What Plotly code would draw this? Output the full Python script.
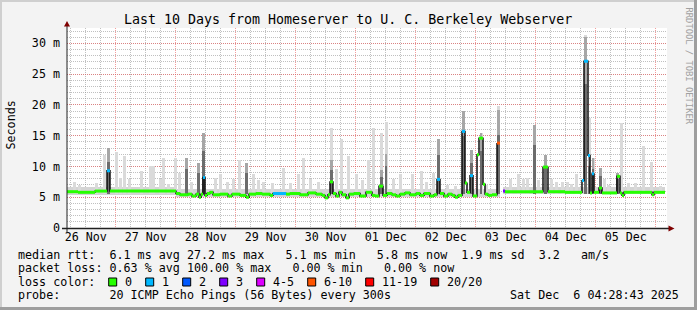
import pandas as pd
import plotly.graph_objects as go

# ---------------- data (times are hours after the graph start) ----------------
START = "2025-11-26 04:28:43"
SPAN_H = 240.0
DATA_END_H = 239.2

# median rtt (ms): step starts, values, loss class index (None = no data)
med_h = [0, 4.4, 11.2, 16, 17.2, 43.6, 45.2, 48.4, 50, 51.6, 52.8, 53.6, 54.4, 55.2, 56, 57.2,
         58.4, 61.2, 64.4, 66, 69.2, 71.6, 72.8, 75.6, 78, 81.2, 82.4, 87.6, 89.2, 93.2, 96.4,
         99.6, 102, 103.2, 104.4, 105.2, 106.4, 107.6, 108.8, 110, 111.6, 112.8, 114.8, 117.2,
         119.6, 122, 123.2, 124.8, 126.4, 128, 130, 131.6, 133.2, 135.2, 137.2, 139.6, 141.2,
         142.8, 145.2, 146.8, 148, 149.2, 150.8, 152.4, 154, 155.2, 156.4, 158, 159.2, 160,
         161.2, 162.4, 164, 164.8, 166.4, 167.2, 168.4, 170, 172, 173.2, 174.4, 175.2, 190.4,
         192.4, 199.2, 206, 206.8, 208.4, 209.2, 210, 210.8, 212.8, 214, 220, 221.2, 222,
         222.8, 234, 234.8]
med_ms = [5.9, 5.8, 6.0, 9.3, 6.0, 5.6, 5.4, 5.5, 5.2, 5.5, 5.0, 5.5, 8.2, 5.3, 5.6, 5.8,
          5.4, 5.5, 5.2, 5.5, 5.3, 5.0, 5.5, 5.6, 5.5, 5.3, 5.6, 5.5, 5.6, 5.4, 5.7,
          5.5, 5.3, 4.9, 5.4, 7.5, 5.6, 5.2, 5.8, 5.4, 4.9, 5.5, 5.6, 5.2,
          5.8, 5.3, 5.2, 6.8, 5.3, 5.6, 5.4, 5.2, 5.5, 5.7, 5.4, 5.6, 5.3,
          5.6, 5.2, 5.4, 7.9, 5.6, 5.2, 5.5, 5.3, 5.0, 5.3, 15.7, 7.3, 5.8,
          8.5, 5.2, 11.9, 14.6, 7.1, 5.5, 5.3, 5.4, 13.8, None, 6.0, 5.9, 9.9,
          5.9, 5.8, 7.7, 27.1, 11.8, 5.7, 8.8, 5.8, 6.5, 5.7, 8.4, 5.7, 5.3,
          5.8, 5.4, 5.8]
med_loss = [0, 0, 0, 1, 0, 0, 0, 0, 0, 0, 0, 0, 1, 0, 0, 0,
            0, 0, 0, 0, 0, 0, 0, 0, 0, 0, 1, 0, 0, 0, 0,
            0, 0, 0, 0, 0, 0, 0, 0, 0, 0, 0, 0, 0,
            0, 0, 0, 0, 0, 0, 0, 0, 0, 0, 0, 0, 0,
            0, 0, 0, 1, 0, 0, 0, 0, 0, 0, 1, 0, 0,
            1, 0, 0, 0, 0, 0, 0, 0, 5, None, 3, 0, 0,
            0, 0, 1, 1, 1, 0, 1, 0, 0, 0, 0, 0, 0,
            0, 0, 0]

# baseline smoke band (step breakpoints)
band_h = [0, 43.6, 173.2, 174.4, 239.2]
band_lo = [5.4, 5.0, None, 5.5]
band_hi = [6.6, 6.4, None, 6.6]

# light smoke spikes (outlier pings)
light_h = [2.8, 4.8, 11.6, 15, 16.6, 19.6, 21.2, 22.8, 24.8, 29.6, 33.2, 34.4, 37.2, 38.4, 40.4,
           43.2, 44.8, 47.8, 49.6, 52.6, 54.6, 59.2, 61.2, 64, 66.4, 68.8, 71.8, 74.6, 76.4,
           78.4, 82, 86.4, 89.2, 92.4, 94.4, 97.2, 100.4, 105.8, 107.6, 109.8, 112.4, 115.6,
           118, 120.4, 122.4, 125.8, 127.6, 130.4, 133.2, 138, 141.6, 143.6, 146.4, 148.6,
           152, 155.2, 158.6, 161.8, 165.6, 167.6, 172.6, 177.2, 180.4, 182.4, 184, 187,
           188.4, 191.4, 193.6, 195.6, 198, 200, 201.6, 203.8, 207.4, 208.8, 210.4, 213.4,
           214.8, 216.4, 221.6, 224.6, 227.2, 230.4, 233.6, 237.2]
light_top = [7.4, 7.0, 7.3, 11.9, 13.0, 12.3, 8.2, 11.7, 8.0, 9.2, 10.1, 10.1, 8.0, 11.3, 7.2,
             11.4, 9.0, 11.4, 7.4, 10.5, 15.5, 8.2, 8.7, 7.5, 7.9, 11.1, 10.5, 8.7, 7.8,
             7.5, 7.3, 9.8, 7.3, 8.7, 11.4, 8.0, 7.5, 16.3, 9.6, 14.5, 11.7, 8.7,
             7.8, 11.1, 16.3, 15.5, 17.3, 8.0, 8.7, 8.7, 9.3, 7.5, 9.0, 14.5,
             7.0, 6.8, 19.0, 12.7, 15.5, 7.0, 19.8, 7.9, 8.7, 7.9, 8.2, 16.8,
             7.8, 11.8, 8.0, 7.5, 7.5, 7.5, 7.2, 8.7, 31.4, 17.9, 11.4, 9.8,
             8.0, 7.0, 17.1, 7.3, 7.3, 13.3, 10.8, 6.9]

# dense (dark) smoke columns
dark_h = [16.6, 47.8, 52.6, 54.6, 71.8, 105.8, 125.8, 127.6, 148.6, 158.6, 161.8, 165.6,
          172.6, 187, 191.4, 207.4, 208.8, 210.4, 213.4, 220.2]
dark_top = [13.0, 11.4, 10.5, 15.5, 10.5, 11.0, 9.5, 12.0, 14.5, 19.0, 12.7, 15.5,
            19.2, 16.8, 11.8, 31.0, 12.0, 11.4, 9.8, 9.0]
smoke_floor = 5.5

loss_labels = ["0", "1", "2", "3", "4-5", "6-10", "11-19", "20/20"]
loss_colors = ["#26ff00", "#00b8ff", "#0059ff", "#7e00ff", "#dd00ff", "#ff5500", "#ff0000", "#a10000"]

ytick_vals = [0, 5, 10, 15, 20, 25, 30]
ytick_text = ["0", "5 m", "10 m", "15 m", "20 m", "25 m", "30 m"]

title = "Last 10 Days from Homeserver to U. C. Berkeley Webserver"
legend_rows = [
    "median rtt:  6.1 ms avg 27.2 ms max   5.1 ms min   5.8 ms now  1.9 ms sd  3.2   am/s",
    "packet loss: 0.63 % avg 100.00 % max   0.00 % min   0.00 % now",
    "loss color:",
    "probe:       20 ICMP Echo Pings (56 Bytes) every 300s",
]
stamp = "Sat Dec  6 04:28:43 2025"

# ---------------- helpers ----------------
t0 = pd.Timestamp(START)
def T(h):
    return t0 + pd.to_timedelta(h, unit="h")

H_MS = 3600 * 1000.0
BAR_H = 1.2

PL, PT, PW, PH = 67, 28, 600, 200
W, Hh = 697, 310
def px(x):
    return (x - PL) / PW
def py(y):
    return (PT + PH - y) / PH

MONO = "DejaVu Sans Mono"
fig = go.Figure()

# baseline band
bx, bw, bb, bhgt = [], [], [], []
for i in range(len(band_lo)):
    if band_lo[i] is None:
        continue
    a, b = band_h[i], band_h[i + 1]
    bx.append(T((a + b) / 2)); bw.append((b - a) * H_MS)
    bb.append(band_lo[i]); bhgt.append(band_hi[i] - band_lo[i])
fig.add_trace(go.Bar(x=bx, y=bhgt, base=bb, width=bw, marker=dict(color="#d4d4d4", line_width=0),
                     hoverinfo="skip"))

fig.add_trace(go.Bar(x=[T(h) for h in light_h], y=[v - smoke_floor for v in light_top],
                     base=smoke_floor, width=BAR_H * H_MS,
                     marker=dict(color="#dadada", line_width=0), hoverinfo="skip"))
# dense smoke: lighter outer part, darker core towards the median
fig.add_trace(go.Bar(x=[T(h) for h in dark_h], y=[v - smoke_floor for v in dark_top],
                     base=smoke_floor, width=BAR_H * H_MS * 0.85,
                     marker=dict(color="#a6a6a6", line_width=0), hoverinfo="skip"))
fig.add_trace(go.Bar(x=[T(h) for h in dark_h], y=[(v - smoke_floor) * 0.7 for v in dark_top],
                     base=smoke_floor, width=BAR_H * H_MS * 0.85,
                     marker=dict(color="#6c6c6c", line_width=0), hoverinfo="skip"))

# median black step line
lx = [T(h) for h in med_h] + [T(DATA_END_H)]
ly = list(med_ms) + [med_ms[-1]]
fig.add_trace(go.Scatter(x=lx, y=ly, mode="lines", line=dict(color="#000000", width=1.4, shape="hv"),
                         connectgaps=False, hoverinfo="skip"))

# loss-coloured median segments
ends = med_h[1:] + [DATA_END_H]
for k, col in enumerate(loss_colors):
    sx, sy = [], []
    for i in range(len(med_h)):
        if med_loss[i] == k and med_ms[i] is not None:
            sx += [T(med_h[i]), T(ends[i]), None]
            sy += [med_ms[i], med_ms[i], None]
    if sx:
        fig.add_trace(go.Scatter(x=sx, y=sy, mode="lines", line=dict(color=col, width=3),
                                 hoverinfo="skip"))

shapes = []
def pline(x0, y0, x1, y1, color, width):
    shapes.append(dict(type="line", xref="paper", yref="paper", x0=px(x0), y0=py(y0),
                       x1=px(x1), y1=py(y1), line=dict(color=color, width=width)))
# outer 3D frame
pline(0, 1, W, 1, "#cfcfcf", 2)
pline(1, 0, 1, Hh, "#cfcfcf", 2)
pline(0, Hh - 1.5, W, Hh - 1.5, "#9e9e9e", 3)
pline(W - 1.5, 0, W - 1.5, Hh, "#9e9e9e", 3)
# axes
pline(67, 233, 67, 24, "#202020", 1)
pline(62, 228.5, 670, 228.5, "#202020", 1.5)
shapes.append(dict(type="path", xref="paper", yref="paper",
                   path=f"M {px(64)} {py(26.5)} L {px(70)} {py(26.5)} L {px(67)} {py(21)} Z",
                   fillcolor="#7f0000", line_width=0))
shapes.append(dict(type="path", xref="paper", yref="paper",
                   path=f"M {px(668.5)} {py(225.5)} L {px(668.5)} {py(231.5)} L {px(674.5)} {py(228.5)} Z",
                   fillcolor="#7f0000", line_width=0))

annotations = []
def text(x, y, s, size=11.7, anchor="left", color="#000000", angle=0):
    annotations.append(dict(xref="paper", yref="paper", x=px(x), y=py(y), text=s.replace(" ", "\u00a0"),
                            showarrow=False, xanchor=anchor, yanchor="middle", textangle=angle,
                            font=dict(family=MONO, size=size, color=color)))

text(347.5, 19, title, size=13.3, anchor="center")
text(10.5, 125, "Seconds", anchor="center", angle=-90)
text(688.5, 66, "RRDTOOL / TOBI OETIKER", size=8.8, anchor="center", color="#a0a0a0", angle=90)
row_y = [254.5, 268, 281.7, 295.3]
for s, yy in zip(legend_rows, row_y):
    text(15.5, yy, s)
text(680.5, row_y[3], stamp, anchor="right")

# loss colour boxes
bxp = 108.7
for lab, col in zip(loss_labels, loss_colors):
    shapes.append(dict(type="rect", xref="paper", yref="paper", x0=px(bxp), x1=px(bxp + 8),
                       y0=py(286), y1=py(278), fillcolor=col, line=dict(color="#000000", width=1)))
    text(bxp + 14.5, row_y[2], lab)
    bxp += 30 + 7 * len(lab)

grid_minor = "rgba(140,140,140,0.55)"
grid_major = "rgba(235,90,90,0.6)"
fig.update_layout(
    width=W, height=Hh, margin=dict(l=PL, r=W - PL - PW, t=PT, b=Hh - PT - PH, pad=0),
    paper_bgcolor="#f3f3f3", plot_bgcolor="#ffffff", showlegend=False, barmode="overlay",
    bargap=0, shapes=shapes, annotations=annotations,
    xaxis=dict(type="date", range=[T(0), T(SPAN_H)], tick0="2025-11-26", dtick=86400000,
               tickformat="%d %b", ticklabelmode="period", showgrid=True,
               gridcolor=grid_major, griddash="1px,1px", gridwidth=1, zeroline=False,
               ticks="", tickfont=dict(family=MONO, size=11.7, color="#000"),
               minor=dict(dtick=6 * 3600000, showgrid=True, gridcolor=grid_minor,
                          griddash="1px,1px", gridwidth=1),
               showline=False, fixedrange=True),
    yaxis=dict(range=[0, 32.5], tickvals=ytick_vals, ticktext=ytick_text, showgrid=True,
               gridcolor=grid_major, griddash="1px,1px", zeroline=False, ticks="",
               tickfont=dict(family=MONO, size=11.7, color="#000"), ticklabelstandoff=6,
               minor=dict(dtick=1, showgrid=True, gridcolor=grid_minor, griddash="1px,1px"),
               showline=False, fixedrange=True),
)

fig.write_html("out.html")
